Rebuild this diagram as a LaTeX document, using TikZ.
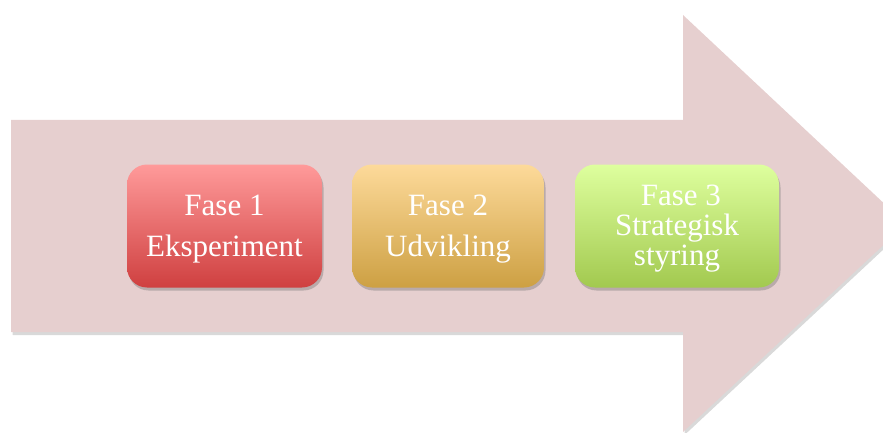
\documentclass[tikz,border=0pt]{standalone}
\usepackage{fontspec}
\setmainfont{Liberation Serif}
\usetikzlibrary{shadows}

\definecolor{arrowpink}{HTML}{E6CFCF}
\definecolor{redtop}{HTML}{FF9A9A}
\definecolor{redbot}{HTML}{CF4040}
\definecolor{yeltop}{HTML}{FDDA9A}
\definecolor{yelbot}{HTML}{CDA043}
\definecolor{grntop}{HTML}{DEFF9E}
\definecolor{grnbot}{HTML}{A2C94F}

\newcommand{\topline}[1][27pt]{\rule{0pt}{#1}}

\tikzset{
	fasebox/.style={rounded corners=20pt, minimum width=195pt, minimum height=123pt,
		align=center, text=white, inner sep=0pt,
		drop shadow={shadow xshift=1.5pt, shadow yshift=-3pt, opacity=0.35, fill=black!60}},
	fasetext/.style={font=\fontsize{31}{41}\selectfont}
}

\begin{document}
\begin{tikzpicture}[x=1pt, y=-1pt]
	\clip (0,0) rectangle (883,433);

	% big arrow
	\fill [arrowpink, drop shadow={shadow xshift=1.5pt, shadow yshift=-3pt, opacity=0.3}]
		(11,120) -- (683,120) -- (683,15) -- (906,224) -- (683,432) -- (683,332) -- (11,332) -- cycle;

	% phases
	\node [fasebox, fasetext, top color=redtop, bottom color=redbot] (fase1) at (224.5,226) {\topline Fase 1\\Eksperiment};
	\node [fasebox, fasetext, top color=yeltop, bottom color=yelbot, minimum width=192pt] (fase2) at (448,226) {\topline Fase 2\\Udvikling};
	\node [fasebox, top color=grntop, bottom color=grnbot, minimum width=204pt,
		font=\fontsize{31}{30}\selectfont] (fase3) at (677,226) {\topline[25pt] Fase 3\\Strategisk\\styring};
\end{tikzpicture}
\end{document}
